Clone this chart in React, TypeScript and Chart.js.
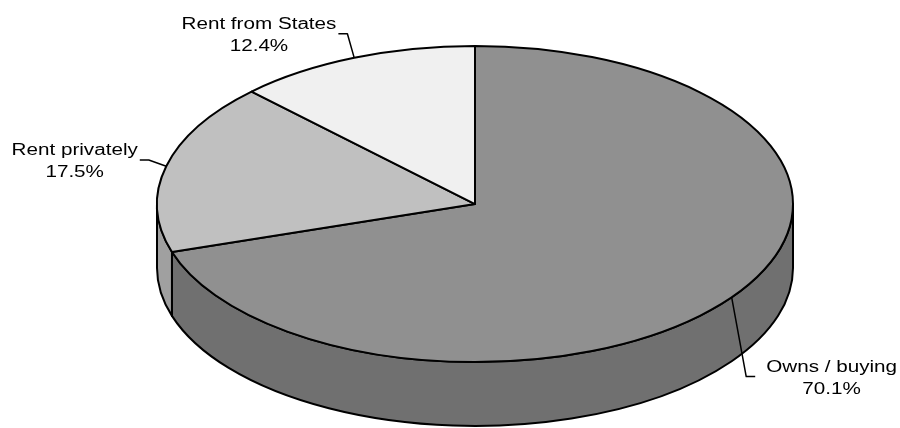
import React, { useEffect, useRef } from "react";
import { Chart, registerables } from "chart.js";

Chart.register(...registerables);

// Housing tenure shares (per cent)
const categories = ["Owns / buying", "Rent privately", "Rent from States"];
const shares = [70.1, 17.5, 12.4];

// Slice styling: face colour and the darker wall colour
const faceColors = ["#909090", "#c0c0c0", "#f0f0f0"];
const wallColors = ["#707070", "#a0a0a0", "#d0d0d0"];

const TILT = 0.497; // vertical squash of the pie disc
const FONT = '16px "Liberation Sans", Arial, sans-serif';
const TEXT_STRETCH = 1.29;

const pie3d = {
  id: "pie3d",
  beforeDatasetsDraw(chart: any) {
    const meta = chart.getDatasetMeta(0);
    const ca = chart.chartArea;
    const ctx: CanvasRenderingContext2D = chart.ctx;
    const rx = (ca.right - ca.left) / 2;
    const cx = ca.left + rx;
    const ry = rx * TILT;
    const cy = ca.top + ry;
    const depth = ca.bottom - ca.top - 2 * ry;

    const arcs = meta.data.map((el: any) => el.getProps(["startAngle", "endAngle"], true));

    ctx.save();
    ctx.lineWidth = 2;
    ctx.lineJoin = "round";
    ctx.strokeStyle = "#000";

    // Front walls (visible part of the rim lies between 0 and PI, or 2PI and 3PI)
    arcs.forEach((a: any, i: number) => {
      [0, 2 * Math.PI].forEach((off) => {
        const a1 = Math.max(a.startAngle, off);
        const a2 = Math.min(a.endAngle, off + Math.PI);
        if (a2 <= a1) return;
        ctx.beginPath();
        ctx.ellipse(cx, cy, rx, ry, 0, a1, a2, false);
        ctx.ellipse(cx, cy + depth, rx, ry, 0, a2, a1, true);
        ctx.closePath();
        ctx.fillStyle = wallColors[i];
        ctx.fill();
        ctx.stroke();
      });
    });

    // Top faces
    arcs.forEach((a: any, i: number) => {
      ctx.beginPath();
      ctx.moveTo(cx, cy);
      ctx.ellipse(cx, cy, rx, ry, 0, a.startAngle, a.endAngle, false);
      ctx.closePath();
      ctx.fillStyle = faceColors[i];
      ctx.fill();
      ctx.stroke();
    });

    // Labels with leader lines
    ctx.font = FONT;
    ctx.fillStyle = "#000";
    ctx.lineWidth = 1.5;
    arcs.forEach((a: any, i: number) => {
      const m = (a.startAngle + a.endAngle) / 2;
      const c = Math.cos(m);
      const s = Math.sin(m);
      const ax = cx + rx * c;
      const ay = cy + ry * s;
      const ex = cx + (rx + 18) * c;
      const ey = cy + (ry + 26) * s + (s > 0 ? depth : 0);
      const side = c >= 0 ? 1 : -1;
      const hx = ex + side * 9;
      ctx.beginPath();
      ctx.moveTo(ax, ay);
      ctx.lineTo(ex, ey);
      ctx.lineTo(hx, ey);
      ctx.stroke();

      const line1 = categories[i];
      const line2 = `${shares[i].toFixed(1)}%`;
      const w = ctx.measureText(line1).width * TEXT_STRETCH;
      const center = side > 0 ? hx + 11 + w / 2 : hx - 2 - w / 2;
      const base = ey - 5;
      [line1, line2].forEach((t, k) => {
        ctx.save();
        ctx.translate(center, base + k * 22.5);
        ctx.scale(TEXT_STRETCH, 1);
        ctx.textAlign = "center";
        ctx.textBaseline = "alphabetic";
        ctx.fillText(t, 0, 0);
        ctx.restore();
      });
    });

    ctx.restore();
    return false;
  },
};

export default function App() {
  const ref = useRef<HTMLCanvasElement>(null);

  useEffect(() => {
    if (!ref.current) return;
    const chart = new Chart(ref.current, {
      type: "pie",
      data: {
        labels: categories,
        datasets: [
          {
            data: shares,
            backgroundColor: faceColors,
            borderColor: "#000",
            borderWidth: 1,
          },
        ],
      },
      options: {
        animation: false,
        responsive: true,
        maintainAspectRatio: false,
        layout: { padding: { left: 157, right: 107, top: 46, bottom: 2 } },
        plugins: {
          legend: { display: false },
          tooltip: { enabled: false },
        },
      },
      plugins: [pie3d],
    });
    return () => chart.destroy();
  }, []);

  return (
    <div style={{ position: "fixed", left: 0, top: 0, width: 900, height: 428, background: "#fff" }}>
      <canvas ref={ref} />
    </div>
  );
}
